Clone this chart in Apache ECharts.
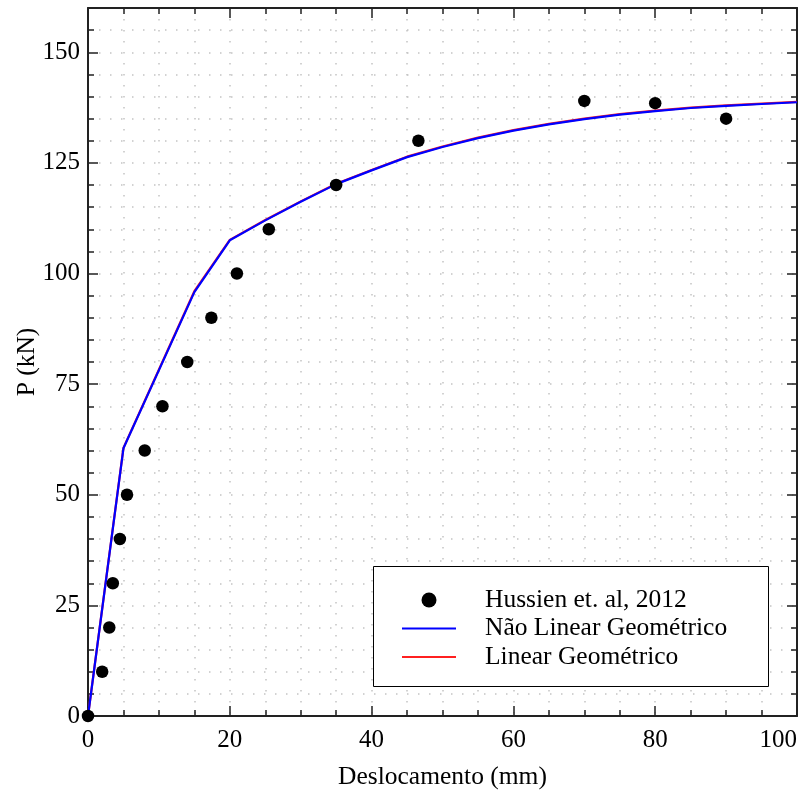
<!DOCTYPE html>
<html>
<head>
<meta charset="utf-8">
<script src="https://cdn.jsdelivr.net/npm/echarts@6/dist/echarts.min.js"></script>
<style>html,body{margin:0;padding:0;background:#fff;overflow:hidden;}#c{width:804px;height:794px;}</style>
</head>
<body>
<div id="c"></div>
<script>
// Experimental data (Hussien et. al, 2012)
var expX = [0, 2.0, 3.0, 3.5, 4.5, 5.5, 8.0, 10.5, 14.0, 17.4, 21.0, 25.5, 35.0, 46.6, 70.0, 80.0, 90.0];
var expY = [0, 10, 20, 30, 40, 50, 60, 70, 80, 90, 100, 110, 120, 130, 139, 138.5, 135];
// Não Linear Geométrico
var nlgX = [0, 5, 15, 20, 25, 30, 35, 40, 45, 50, 55, 60, 65, 70, 75, 80, 85, 90, 95, 100];
var nlgY = [0, 60.5, 95.8, 107.5, 112, 116.2, 120.2, 123.3, 126.3, 128.6, 130.6, 132.3, 133.7, 134.9, 135.9, 136.7, 137.4, 137.9, 138.3, 138.7];
// Linear Geométrico
var lgX = [0, 5, 15, 20, 25, 30, 35, 40, 45, 50, 55, 60, 65, 70, 75, 80, 85, 90, 95, 100];
var lgY = [0, 60.6, 96.0, 107.6, 112.1, 116.3, 120.3, 123.4, 126.4, 128.7, 130.7, 132.4, 133.8, 135.0, 136.0, 136.8, 137.5, 138.0, 138.4, 138.8];
// Axes
var xTicks = [0, 20, 40, 60, 80, 100];
var yTicks = [0, 25, 50, 75, 100, 125, 150];

function pairs(a, b) { return a.map(function (v, i) { return [v, b[i]]; }); }

var FONT = '"Liberation Serif", "Times New Roman", serif';
var axisCol = '#222';
var gridLine = { show: true, lineStyle: { color: '#c4c4c4', width: 1.5, type: [1.5, 9.5] } };
var lineIcon = 'path://M0,0 L54,0 L54,2 L0,2 Z';

function tickCfg() {
  return {
    axisLine: { show: true, onZero: false, lineStyle: { color: axisCol, width: 2 } },
    axisTick: { show: true, inside: true, length: 10, lineStyle: { color: axisCol, width: 1.5 } }
  };
}

var chart = echarts.init(document.getElementById('c'));
chart.setOption({
  animation: false,
  backgroundColor: '#fff',
  grid: { left: 88, right: 7, top: 8, bottom: 78, containLabel: false, outerBoundsMode: 'none' },
  xAxis: [Object.assign(tickCfg(), {
    type: 'value', min: xTicks[0], max: xTicks[xTicks.length - 1], interval: 20,
    name: 'Deslocamento (mm)', nameLocation: 'middle', nameGap: 48, nameMoveOverlap: false,
    nameTextStyle: { fontFamily: FONT, fontSize: 25.5, color: '#000' },
    minorTick: { show: true, splitNumber: 4, length: 6, lineStyle: { color: axisCol, width: 1.5 } },
    axisLabel: { fontFamily: FONT, fontSize: 25, color: '#000', margin: 12, alignMaxLabel: 'right' },
    splitLine: gridLine, minorSplitLine: gridLine
  }), Object.assign(tickCfg(), {
    type: 'value', position: 'top', min: xTicks[0], max: xTicks[xTicks.length - 1], interval: 20,
    minorTick: { show: true, splitNumber: 4, length: 6, lineStyle: { color: axisCol, width: 1.5 } },
    axisLabel: { show: false }, splitLine: { show: false }
  })],
  yAxis: [Object.assign(tickCfg(), {
    type: 'value', min: yTicks[0], max: 160, interval: 25,
    name: 'P (kN)', nameLocation: 'middle', nameGap: 48, nameRotate: 90, nameMoveOverlap: false,
    nameTextStyle: { fontFamily: FONT, fontSize: 25.5, color: '#000' },
    minorTick: { show: true, splitNumber: 5, length: 6, lineStyle: { color: axisCol, width: 1.5 } },
    axisLabel: { fontFamily: FONT, fontSize: 25, color: '#000', margin: 8, showMaxLabel: false,
      formatter: function (v) { return yTicks.indexOf(v) >= 0 ? String(v) : ''; } },
    splitLine: gridLine, minorSplitLine: gridLine
  }), Object.assign(tickCfg(), {
    type: 'value', position: 'right', min: yTicks[0], max: 160, interval: 25,
    minorTick: { show: true, splitNumber: 5, length: 6, lineStyle: { color: axisCol, width: 1.5 } },
    axisLabel: { show: false }, splitLine: { show: false }
  })],
  graphic: [{
    type: 'rect', z: 5, left: 373, top: 566,
    shape: { width: 395, height: 120 },
    style: { fill: '#fff', stroke: '#000', lineWidth: 1 }
  }],
  legend: {
    z: 10, orient: 'vertical', left: 402, top: 587, padding: 0,
    itemWidth: 54, itemHeight: 15, itemGap: 2.5,
    textStyle: { fontFamily: FONT, fontSize: 25.5, color: '#000', lineHeight: 26, padding: [0, 0, 0, 24] },
    data: [
      { name: 'Hussien et. al, 2012', icon: 'circle' },
      { name: 'Não Linear Geométrico', icon: lineIcon },
      { name: 'Linear Geométrico', icon: lineIcon }
    ]
  },
  series: [{
    name: 'Linear Geométrico', type: 'line', data: pairs(lgX, lgY),
    symbol: 'none', smooth: false, z: 2,
    lineStyle: { color: '#ff2020', width: 2.2 }, itemStyle: { color: '#ff2020' }
  }, {
    name: 'Não Linear Geométrico', type: 'line', data: pairs(nlgX, nlgY),
    symbol: 'none', smooth: false, z: 3,
    lineStyle: { color: '#0000ff', width: 2.2 }, itemStyle: { color: '#0000ff' }
  }, {
    name: 'Hussien et. al, 2012', type: 'scatter', data: pairs(expX, expY),
    symbol: 'circle', symbolSize: 12.5, z: 4,
    itemStyle: { color: '#000', opacity: 1 }
  }]
});
</script>
</body>
</html>
